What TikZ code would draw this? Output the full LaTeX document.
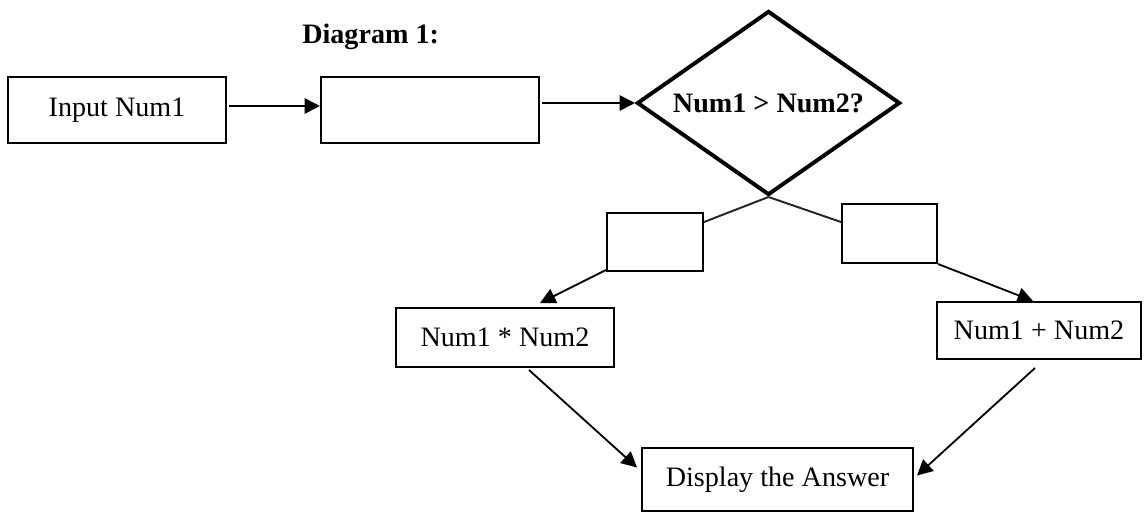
\documentclass[tikz,border=0pt]{standalone}
\usepackage{fontspec}
\setmainfont{Liberation Serif}
\usetikzlibrary{shapes.geometric,arrows.meta,calc}
\begin{document}
\begin{tikzpicture}[x=0.025cm,y=-0.025cm,
  every node/.style={font=\fontsize{20pt}{24pt}\selectfont},
  box/.style={draw=black,line width=1.4pt,rectangle,inner sep=0pt},
  decision/.style={draw=black,line width=2.8pt,diamond,inner sep=0pt,
     minimum width=6.575cm,minimum height=4.6cm,aspect=1.43,font=\fontsize{20pt}{24pt}\selectfont\bfseries},
  arr/.style={line width=1.3pt,-{Triangle[length=11pt,width=11pt]}},
  lnk/.style={line width=1.4pt,draw=black!85}]
\useasboundingbox (0,0) rectangle (1147,513);

\node[anchor=base west,inner sep=0pt,font=\fontsize{20pt}{24pt}\selectfont\bfseries] (title) at (302,44) {Diagram 1:};

\node[box,minimum width=5.45cm,minimum height=1.65cm] (in) at (117,110) {Input Num1};
\node[box,minimum width=5.45cm,minimum height=1.65cm] (blank) at (430,110) {};
\node[decision] (dec) at (768.5,103) {\raisebox{-3pt}{Num1 > Num2?}};
\node[box,minimum width=2.4cm,minimum height=1.45cm] (sl) at (655,242) {};
\node[box,minimum width=2.375cm,minimum height=1.475cm] (sr) at (889.5,233.5) {};
\node[box,minimum width=5.45cm,minimum height=1.475cm] (mul) at (505,337.5) {Num1 * Num2};
\node[box,minimum width=5.1cm,minimum height=1.425cm] (add) at (1039,330.5) {Num1 + Num2};
\node[box,minimum width=6.775cm,minimum height=1.575cm] (disp) at (777.5,479.5) {Display the Answer};

\draw[arr] ($(in.east)+(2,-4)$) -- ($(blank.west)+(0,-4)$);
\draw[arr] ($(blank.east |- dec.west)+(2,0)$) -- (dec.west);
\draw[lnk] (dec.south) -- ($(sl.north east)+(0,10)$);
\draw[lnk] (dec.south) -- ($(sr.north west)+(0,19)$);
\draw[arr] ($(sl.south west)+(0,-2)$) -- ($(mul.north)+(35,-4)$);
\draw[arr] (sr.south east) -- ($(add.north)+(-6,0)$);
\draw[arr] ($(mul.south)+(24,2)$) -- ($(disp.west)+(-4,-12)$);
\draw[arr] ($(add.south)+(-4,8)$) -- ($(disp.east)+(3,-4)$);
\end{tikzpicture}
\end{document}
